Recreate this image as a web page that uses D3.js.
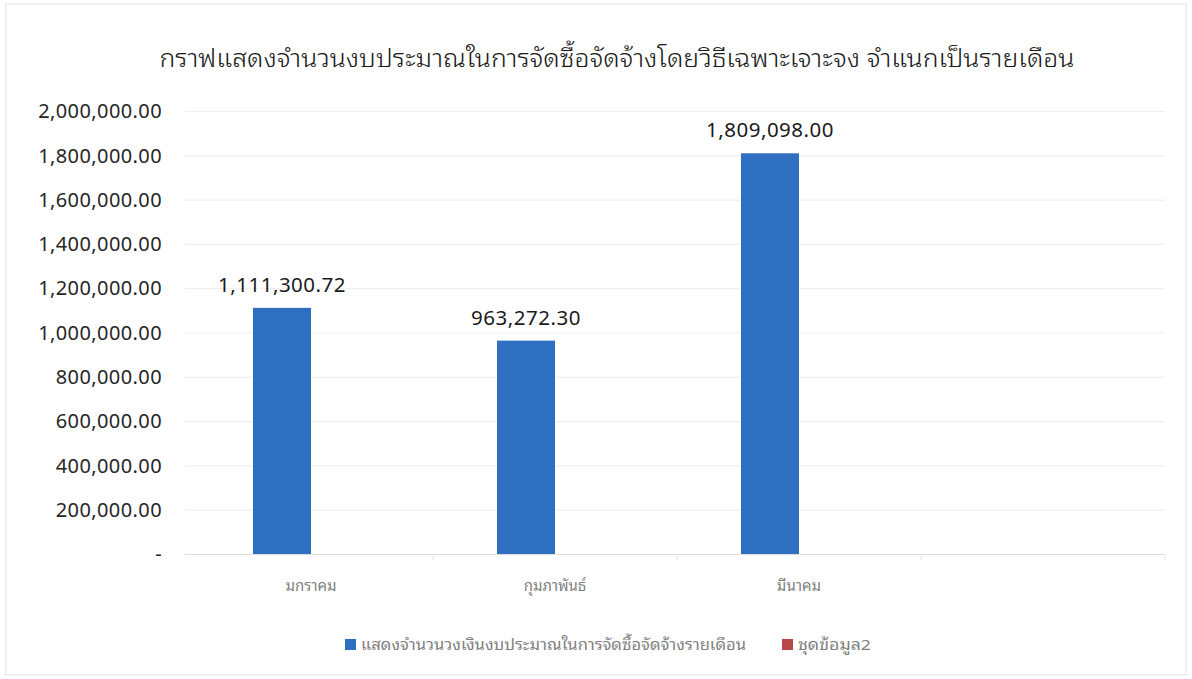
<!DOCTYPE html>
<html>
<head>
<meta charset="utf-8">
<script src="https://cdn.jsdelivr.net/npm/d3@7"></script>
<style>
  html, body { margin: 0; padding: 0; background: #fff; }
  svg { display: block; }
</style>
</head>
<body>
<div id="chart"></div>
<script>
'use strict';

// Chart data
var categories = ['มกราคม', 'กุมภาพันธ์', 'มีนาคม', ''];
var budget = [1111300.72, 963272.30, 1809098.00, null];
var series2 = [null, null, null, null];
var yTicks = [0, 200000, 400000, 600000, 800000, 1000000, 1200000, 1400000, 1600000, 1800000, 2000000];
var seriesNames = ['แสดงจำนวนวงเงินงบประมาณในการจัดซื้อจัดจ้างรายเดือน', 'ชุดข้อมูล2'];
var title = 'กราฟแสดงจำนวนงบประมาณในการจัดซื้อจัดจ้างโดยวิธีเฉพาะเจาะจง จำแนกเป็นรายเดือน';

var W = 1192, H = 679;
var plot = { left: 189, right: 1165, top: 111, bottom: 554 };
var colors = ['#2e6fc1', '#b9474a'];
var thaiFont = '"Noto Sans Thai Looped", "Noto Sans Thai", "Noto Sans", "DejaVu Sans", sans-serif';
var numFont = '"Noto Sans", "Open Sans", sans-serif';

var svg = d3.select('#chart').append('svg')
  .attr('width', W)
  .attr('height', H);

// faint scanned frame
svg.append('rect')
  .attr('x', 6).attr('y', 4)
  .attr('width', W - 12).attr('height', H - 8)
  .attr('fill', 'none')
  .attr('stroke', '#ececec')
  .attr('stroke-width', 1.5);

// Scales
var x = d3.scaleBand()
  .domain(d3.range(categories.length))
  .range([plot.left, plot.right]);

var groupWidth = 116;
var xs = d3.scaleBand()
  .domain([0, 1])
  .range([0, groupWidth]);

var y = d3.scaleLinear()
  .domain([0, 2000000])
  .range([plot.bottom, plot.top]);

// Gridlines
svg.append('g')
  .selectAll('line')
  .data(yTicks)
  .join('line')
  .attr('x1', plot.left - 4)
  .attr('x2', plot.right)
  .attr('y1', function (d) { return y(d) + 0.5; })
  .attr('y2', function (d) { return y(d) + 0.5; })
  .attr('stroke', function (d) { return d === 0 ? '#dddddd' : '#f0f0f0'; })
  .attr('stroke-width', 1.2);

// Y axis labels
var fmt = d3.format(',.2f');
svg.append('g')
  .selectAll('text')
  .data(yTicks)
  .join('text')
  .attr('x', 162)
  .attr('y', function (d) { return y(d); })
  .attr('dy', '0.36em')
  .attr('text-anchor', 'end')
  .attr('font-family', numFont)
  .attr('font-size', 20)
  .attr('letter-spacing', 0.4)
  .attr('fill', '#262626')
  .text(function (d) { return d === 0 ? '-' : fmt(d); });

// X axis ticks between categories
svg.append('g')
  .selectAll('line')
  .data(d3.range(1, categories.length + 1))
  .join('line')
  .attr('x1', function (i) { return plot.left + i * x.bandwidth(); })
  .attr('x2', function (i) { return plot.left + i * x.bandwidth(); })
  .attr('y1', plot.bottom)
  .attr('y2', plot.bottom + 6)
  .attr('stroke', '#e6e6e6');

// X labels
svg.append('g')
  .selectAll('text')
  .data(categories)
  .join('text')
  .attr('x', function (d, i) { return x(i) + x.bandwidth() / 2; })
  .attr('y', 591)
  .attr('text-anchor', 'middle')
  .attr('font-family', thaiFont)
  .attr('font-size', 15)
  .attr('fill', '#7f7f7f')
  .text(function (d) { return d; });

// Bars
var allSeries = [budget, series2];
allSeries.forEach(function (vals, s) {
  var barsData = vals.map(function (v, i) { return { i: i, v: v }; })
    .filter(function (d) { return d.v != null; });

  svg.append('g')
    .selectAll('rect')
    .data(barsData)
    .join('rect')
    .attr('x', function (d) { return x(d.i) + (x.bandwidth() - groupWidth) / 2 + xs(s); })
    .attr('y', function (d) { return y(d.v); })
    .attr('width', xs.bandwidth())
    .attr('height', function (d) { return y(0) - y(d.v); })
    .attr('fill', colors[s]);

  svg.append('g')
    .selectAll('text')
    .data(barsData)
    .join('text')
    .attr('x', function (d) { return x(d.i) + (x.bandwidth() - groupWidth) / 2 + xs(s) + xs.bandwidth() / 2; })
    .attr('y', function (d) { return y(d.v) - 16; })
    .attr('text-anchor', 'middle')
    .attr('font-family', numFont)
    .attr('font-size', 20.5)
    .attr('letter-spacing', 0.5)
    .attr('fill', '#1a1a1a')
    .text(function (d) { return fmt(d.v); });
});

// Title
svg.append('text')
  .attr('x', 617)
  .attr('y', 67)
  .attr('text-anchor', 'middle')
  .attr('font-family', thaiFont)
  .attr('font-size', 25)
  .attr('font-weight', 300)
  .attr('fill', '#1a1a1a')
  .attr('textLength', 915)
  .attr('lengthAdjust', 'spacingAndGlyphs')
  .text(title);

// Legend
var legendItems = [
  { name: seriesNames[0], color: colors[0], x: 345, len: 385 },
  { name: seriesNames[1], color: colors[1], x: 782, len: 73 }
];
var lg = svg.append('g').selectAll('g')
  .data(legendItems)
  .join('g')
  .attr('transform', function (d) { return 'translate(' + d.x + ',645)'; });
lg.append('rect')
  .attr('x', 0).attr('y', -6)
  .attr('width', 11).attr('height', 11)
  .attr('fill', function (d) { return d.color; });
lg.append('text')
  .attr('x', 16)
  .attr('y', 0)
  .attr('dy', '0.35em')
  .attr('font-family', thaiFont)
  .attr('font-size', 15)
  .attr('fill', '#7f7f7f')
  .attr('textLength', function (d) { return d.len; })
  .attr('lengthAdjust', 'spacingAndGlyphs')
  .text(function (d) { return d.name; });
</script>
</body>
</html>
